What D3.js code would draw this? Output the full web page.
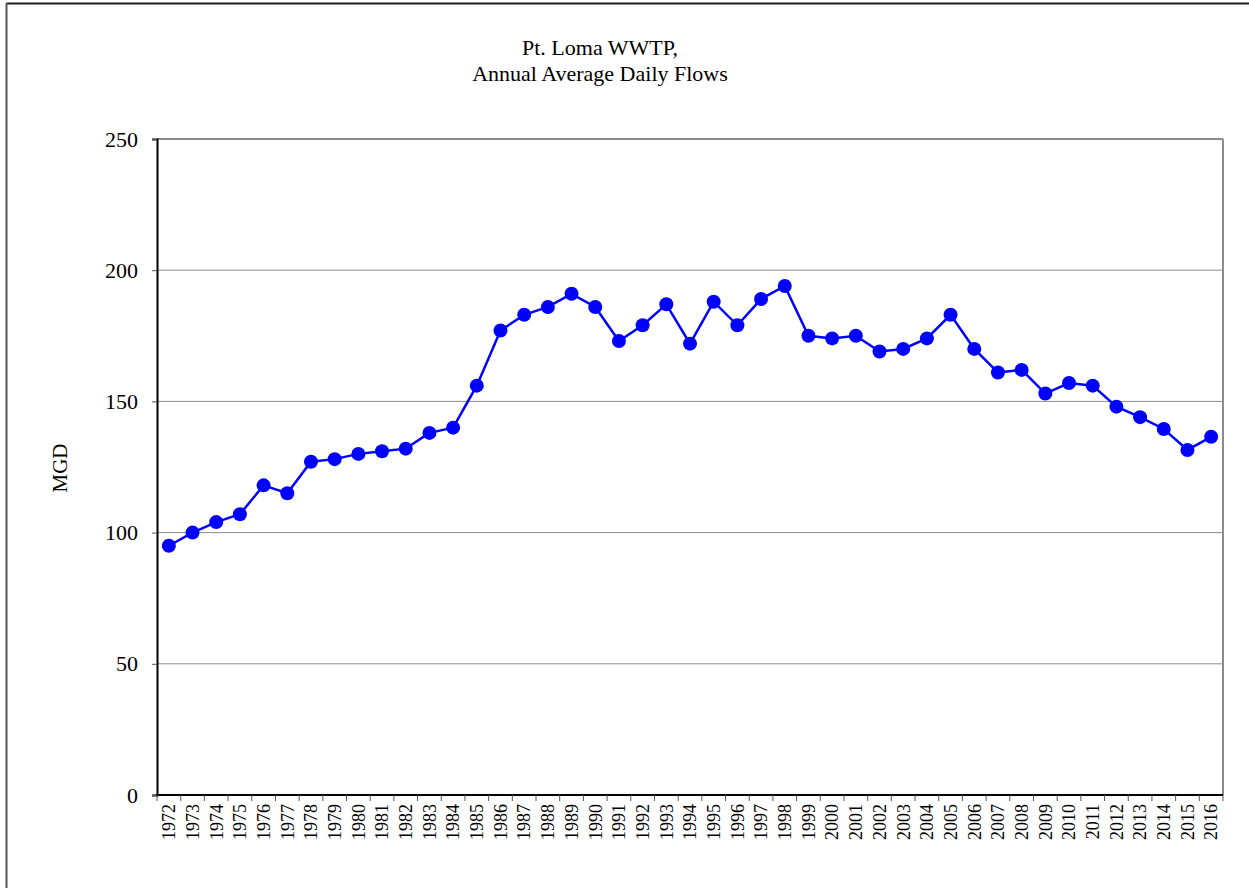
<!DOCTYPE html>
<html>
<head>
<meta charset="utf-8">
<script src="https://cdn.jsdelivr.net/npm/d3@7"></script>
<style>
  body { margin: 0; background: #fff; }
  text { font-family: "Liberation Serif", "Times New Roman", serif; fill: #000; }
</style>
</head>
<body>
<script>
// data
var years = ["1972","1973","1974","1975","1976","1977","1978","1979","1980","1981",
  "1982","1983","1984","1985","1986","1987","1988","1989","1990","1991",
  "1992","1993","1994","1995","1996","1997","1998","1999","2000","2001",
  "2002","2003","2004","2005","2006","2007","2008","2009","2010","2011",
  "2012","2013","2014","2015","2016"];
var flows = [95, 100, 104, 107, 118, 115, 127, 128, 130, 131,
  132, 138, 140, 156, 177, 183, 186, 191, 186, 173,
  179, 187, 172, 188, 179, 189, 194, 175, 174, 175,
  169, 170, 174, 183, 170, 161, 162, 153, 157, 156,
  148, 144, 139.5, 131.5, 136.5];
var yTicks = [0, 50, 100, 150, 200, 250];
var titleLines = ["Pt. Loma WWTP,", "Annual Average Daily Flows"];

var W = 1249, H = 888;
// plot area ("top" is a reserved window name, so prefixed)
var pLeft = 157, pRight = 1223, pTop = 139, pBottom = 795;

var svg = d3.select("body").append("svg").attr("width", W).attr("height", H);

// outer frame (only top and left visible)
svg.append("line").attr("x1", 6.5).attr("y1", 3.5).attr("x2", W).attr("y2", 3.5)
  .attr("stroke", "#1a1a1a").attr("stroke-width", 2);
svg.append("line").attr("x1", 6.5).attr("y1", 3).attr("x2", 6.5).attr("y2", H)
  .attr("stroke", "#555").attr("stroke-width", 2);

var x = d3.scaleBand().domain(years).range([pLeft, pRight]).padding(0);
var y = d3.scaleLinear().domain([0, 250]).range([pBottom, pTop]);

// gridlines
svg.append("g").selectAll("line").data(yTicks.filter(function(d) { return d > 0 && d < 250; }))
  .enter().append("line")
  .attr("x1", pLeft).attr("x2", pRight)
  .attr("y1", function(d) { return y(d); }).attr("y2", function(d) { return y(d); })
  .attr("stroke", "#8c8c8c").attr("stroke-width", 1);

// plot frame top/right in gray
svg.append("line").attr("x1", pLeft).attr("x2", pRight).attr("y1", pTop).attr("y2", pTop)
  .attr("stroke", "#8c8c8c").attr("stroke-width", 2);
svg.append("line").attr("x1", pRight).attr("x2", pRight).attr("y1", pTop).attr("y2", pBottom)
  .attr("stroke", "#8c8c8c").attr("stroke-width", 2);

// y axis
var yAxis = svg.append("g").attr("transform", "translate(" + pLeft + ",0)")
  .call(d3.axisLeft(y).tickValues(yTicks).tickSize(5).tickPadding(14).tickFormat(d3.format("d")));
yAxis.select(".domain").attr("stroke", "#000").attr("stroke-width", 2);
yAxis.selectAll(".tick line").attr("stroke", "#555");
yAxis.selectAll("text").style("font-size", "22px").attr("font-family", null);

// x axis: labels at category centres, ticks at boundaries
var xAxis = svg.append("g").attr("transform", "translate(0," + pBottom + ")")
  .call(d3.axisBottom(x).tickSize(0).tickPadding(0));
xAxis.select(".domain").remove();
xAxis.selectAll("text")
  .attr("transform", "rotate(-90)")
  .attr("x", -9).attr("y", 0).attr("dy", "0.35em")
  .style("text-anchor", "end").style("font-size", "18px").attr("font-family", null);

svg.append("line").attr("x1", pLeft - 1).attr("x2", pRight).attr("y1", pBottom).attr("y2", pBottom)
  .attr("stroke", "#000").attr("stroke-width", 2);
svg.append("g").selectAll("line").data(d3.range(years.length + 1))
  .enter().append("line")
  .attr("x1", function(i) { return pLeft + i * x.step(); })
  .attr("x2", function(i) { return pLeft + i * x.step(); })
  .attr("y1", pBottom).attr("y2", pBottom + 6)
  .attr("stroke", "#555").attr("stroke-width", 1);

// series line and markers
var line = d3.line()
  .x(function(d, i) { return x(years[i]) + x.bandwidth() / 2; })
  .y(function(d) { return y(d); });

svg.append("path").datum(flows)
  .attr("d", line)
  .attr("fill", "none")
  .attr("stroke", "#0000ff")
  .attr("stroke-width", 2.5);

svg.append("g").selectAll("circle").data(flows)
  .enter().append("circle")
  .attr("cx", function(d, i) { return x(years[i]) + x.bandwidth() / 2; })
  .attr("cy", function(d) { return y(d); })
  .attr("r", 7)
  .attr("fill", "#0000ff");

// title
svg.append("text").attr("x", 600).attr("y", 55)
  .attr("text-anchor", "middle").style("font-size", "22px")
  .selectAll("tspan").data(titleLines).enter().append("tspan")
  .attr("x", 600).attr("dy", function(d, i) { return i === 0 ? 0 : 26; })
  .text(function(d) { return d; });

// y label
svg.append("text")
  .attr("transform", "translate(67," + 468 + ") rotate(-90)")
  .attr("text-anchor", "middle").style("font-size", "21px")
  .text("MGD");
</script>
</body>
</html>
